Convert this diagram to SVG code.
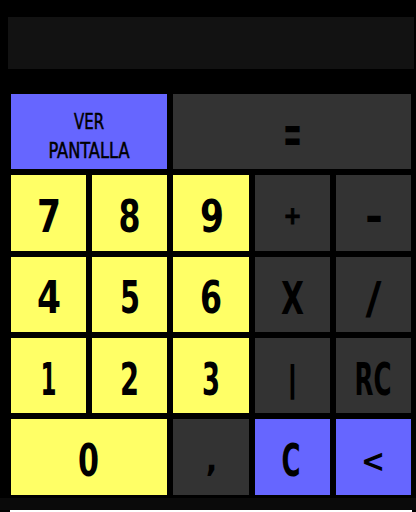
<svg xmlns="http://www.w3.org/2000/svg" width="416" height="512" viewBox="0 0 416 512">
<style>
.y{fill:#FFFF66}.b{fill:#6666FF}.g{fill:#333333}
text{font-family:"DejaVu Sans Condensed","DejaVu Sans",sans-serif;fill:#000;text-anchor:middle;font-weight:bold}
.k{font-size:45px}
.s{font-size:21px;font-weight:normal;stroke:#000;stroke-width:0.5px}
</style>
<rect width="416" height="512" fill="#000"/>
<rect id="display" x="8" y="17" width="406" height="52" fill="#121212"/>
<rect x="0" y="498" width="416" height="12" fill="#0a0a0a"/>
<rect x="10" y="510" width="402" height="2" fill="#fff"/>
<g id="btn-ver"><rect class="b" x="11" y="94" width="156" height="75"/>
<text class="s" x="89" y="129" textLength="30" lengthAdjust="spacingAndGlyphs">VER</text>
<text class="s" x="89" y="158" textLength="81" lengthAdjust="spacingAndGlyphs">PANTALLA</text></g>
<g id="btn-eq"><rect class="g" x="173" y="94" width="238" height="75"/>
<text x="292.5" y="153" font-size="55" textLength="19" lengthAdjust="spacingAndGlyphs">=</text></g>
<g id="btn-7"><rect class="y" x="11" y="175" width="75" height="76"/><text class="k" x="49" y="232" textLength="24" lengthAdjust="spacingAndGlyphs">7</text></g>
<g id="btn-8"><rect class="y" x="92" y="175" width="75" height="76"/><text class="k" x="129.5" y="232" textLength="22" lengthAdjust="spacingAndGlyphs">8</text></g>
<g id="btn-9"><rect class="y" x="173" y="175" width="76" height="76"/><text class="k" x="212" y="232" textLength="24" lengthAdjust="spacingAndGlyphs">9</text></g>
<g id="btn-plus"><rect class="g" x="255" y="175" width="75" height="76"/><text x="292.5" y="224" font-size="24" stroke="#000" stroke-width="0.8">+</text></g>
<g id="btn-minus"><rect class="g" x="336" y="175" width="75" height="76"/><text class="k" x="374" y="232" textLength="18" lengthAdjust="spacingAndGlyphs">-</text></g>
<g id="btn-4"><rect class="y" x="11" y="257" width="75" height="75"/><text class="k" x="49" y="313" textLength="24" lengthAdjust="spacingAndGlyphs">4</text></g>
<g id="btn-5"><rect class="y" x="92" y="257" width="75" height="75"/><text class="k" x="130" y="313" textLength="20" lengthAdjust="spacingAndGlyphs">5</text></g>
<g id="btn-6"><rect class="y" x="173" y="257" width="76" height="75"/><text class="k" x="211" y="313" textLength="22" lengthAdjust="spacingAndGlyphs">6</text></g>
<g id="btn-x"><rect class="g" x="255" y="257" width="75" height="75"/><text class="k" x="292.5" y="314" textLength="23" lengthAdjust="spacingAndGlyphs">X</text></g>
<g id="btn-div"><rect class="g" x="336" y="257" width="75" height="75"/><text class="k" x="373.5" y="314" textLength="16" lengthAdjust="spacingAndGlyphs">/</text></g>
<g id="btn-1"><rect class="y" x="11" y="338" width="75" height="75"/><text class="k" x="48.5" y="395" textLength="16" lengthAdjust="spacingAndGlyphs">1</text></g>
<g id="btn-2"><rect class="y" x="92" y="338" width="75" height="75"/><text class="k" x="129.5" y="395" textLength="19" lengthAdjust="spacingAndGlyphs">2</text></g>
<g id="btn-3"><rect class="y" x="173" y="338" width="76" height="75"/><text class="k" x="211" y="395" textLength="18" lengthAdjust="spacingAndGlyphs">3</text></g>
<g id="btn-bar"><rect class="g" x="255" y="338" width="75" height="75"/><text x="292.5" y="391" font-size="36">|</text></g>
<g id="btn-rc"><rect class="g" x="336" y="338" width="75" height="75"/><text class="k" x="373" y="395" textLength="37" lengthAdjust="spacingAndGlyphs">RC</text></g>
<g id="btn-0"><rect class="y" x="11" y="419" width="156" height="76"/><text class="k" x="88.5" y="476" textLength="21" lengthAdjust="spacingAndGlyphs">0</text></g>
<g id="btn-comma"><rect class="g" x="173" y="419" width="76" height="76"/><text x="211.5" y="471" font-size="34">,</text></g>
<g id="btn-c"><rect class="b" x="255" y="419" width="75" height="76"/><text class="k" x="291" y="476" textLength="19" lengthAdjust="spacingAndGlyphs">C</text></g>
<g id="btn-back"><rect class="b" x="336" y="419" width="75" height="76"/><text x="373" y="472" font-size="32">&lt;</text></g>
</svg>
